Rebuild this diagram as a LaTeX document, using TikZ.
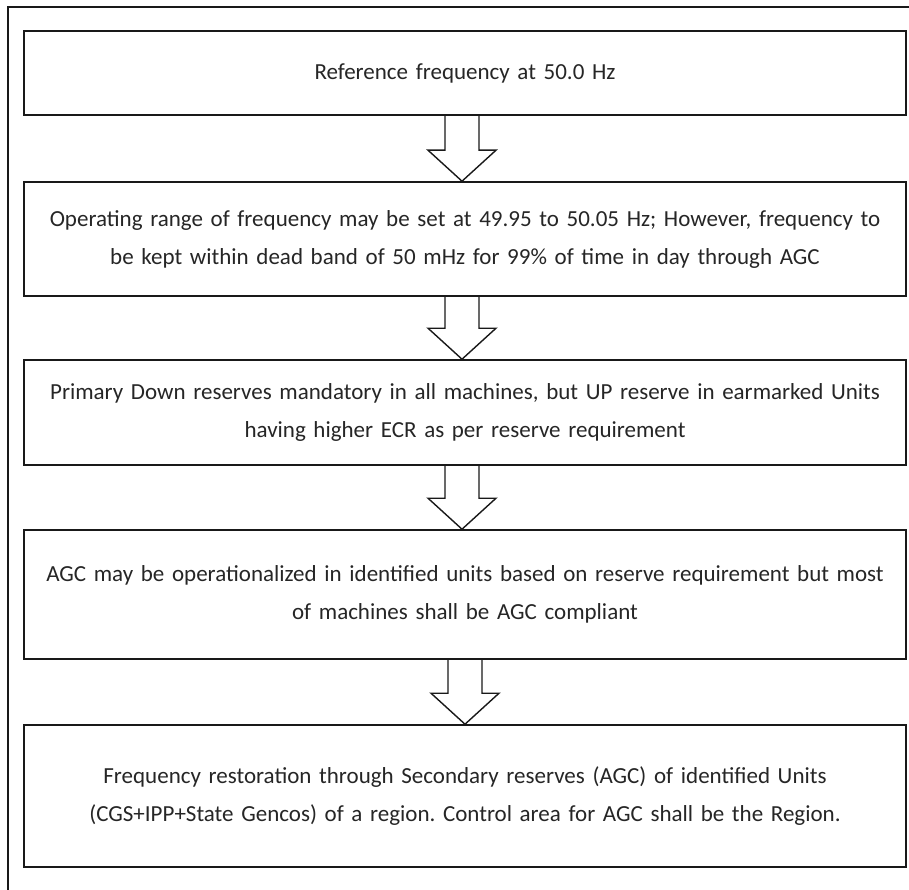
\documentclass[tikz,border=0pt]{standalone}
\usepackage{fontspec}
\setmainfont{Carlito}
\usetikzlibrary{calc}
\frenchspacing

\tikzset{
  stagebox/.style={draw=black!90, line width=1.6pt, minimum width=882pt,
    inner sep=0pt, text width=878pt, align=center, text=black!85,
    font=\fontsize{23}{38}\selectfont},
  arrowline/.style={draw=black!90, line width=1.4pt, line join=miter},
  frameline/.style={draw=black!90, line width=1.6pt}
}

% hollow block arrow from the bottom of #1 down to the top of #2, shifted by #3
\newcommand\hollowdown[3]{%
  \draw[arrowline]
    ($(#1.south)+(#3-17,0)$) -- ($(#2.north)+(#3-17,-31)$)
    -- ($(#2.north)+(#3-34,-31)$) -- ($(#2.north)+(#3,0)$)
    -- ($(#2.north)+(#3+34,-31)$) -- ($(#2.north)+(#3+17,-31)$)
    -- ($(#1.south)+(#3+17,0)$);}

\begin{document}
\begin{tikzpicture}[x=1pt,y=-1pt]
  \useasboundingbox (0,0) rectangle (909,890);
  \fill[white] (0,0) rectangle (909,890);

  % outer frame (runs off the right and bottom edges)
  \draw[frameline] (8,890) -- (8,7) -- (909,7);

  \node[stagebox, minimum height=84pt] (b1) at (465,73)
    {Reference frequency at 50.0 Hz};
  \node[stagebox, minimum height=114pt] (b2) at (465,239)
    {Operating range of frequency may be set at 49.95 to 50.05 Hz; However, frequency to\\
     be kept within dead band of 50 mHz for 99\% of time in day through AGC};
  \node[stagebox, minimum height=105pt] (b3) at (465,412.5)
    {Primary Down reserves mandatory in all machines, but UP reserve in earmarked Units\\
     having higher ECR as per reserve requirement};
  \node[stagebox, minimum height=129pt] (b4) at (465,594.5)
    {AGC may be operationalized in identified units based on reserve requirement but most\\
     of machines shall be AGC compliant};
  \node[stagebox, minimum height=142pt] (b5) at (465,796)
    {Frequency restoration through Secondary reserves (AGC) of identified Units\\
     (CGS+IPP+State Gencos) of a region. Control area for AGC shall be the Region.};

  \hollowdown{b1}{b2}{-3}
  \hollowdown{b2}{b3}{-3}
  \hollowdown{b3}{b4}{-3}
  \hollowdown{b4}{b5}{0}
\end{tikzpicture}
\end{document}
